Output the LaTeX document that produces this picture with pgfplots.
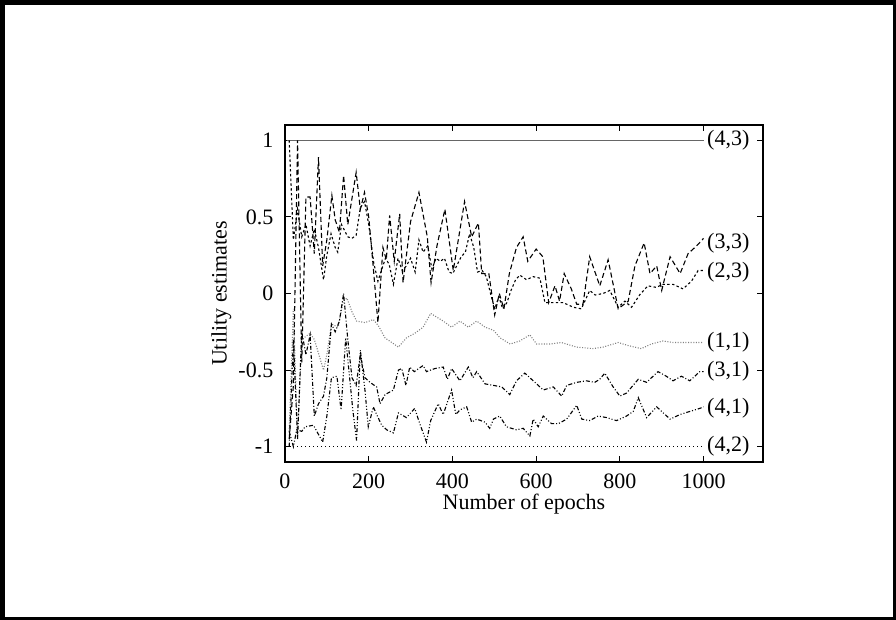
\documentclass[border=0pt]{standalone}
\usepackage{fontspec}
\setmainfont{Liberation Serif}
\usepackage{pgfplots}
\pgfplotsset{compat=1.18}
\usepackage{pgfplotstable}

% one table per state, epochs against utility estimate
\pgfplotstableread{
x y
5 1
1000 1
}\stateFourThree
\pgfplotstableread{
x y
10 -1
1000 -1
}\stateFourTwo
\pgfplotstableread{
x y
10 -0.95
20 -0.6
30 1.0
40 -0.45
50 0.63
60 0.63
70 0.26
80 0.89
90 0.18
100 0.35
112 0.64
120 0.48
130 0.40
140 0.77
150 0.45
160 0.62
170 0.79
180 0.55
190 0.66
200 0.50
210 0.20
222 -0.19
234 0.30
242 0.22
250 0.51
261 0.21
274 0.52
282 0.07
300 0.47
320 0.66
340 0.37
349 0.07
363 0.31
382 0.55
402 0.15
429 0.60
446 0.37
462 0.46
470 0.13
487 0.13
501 -0.14
512 0.00
523 -0.10
536 0.13
553 0.30
569 0.37
580 0.21
600 0.29
616 0.24
630 -0.06
645 0.05
656 -0.05
667 0.13
684 0.03
697 -0.07
712 -0.07
728 0.24
752 0.05
772 0.22
796 -0.10
820 -0.05
836 0.18
858 0.33
872 0.13
888 0.18
900 0.02
920 0.24
944 0.13
963 0.26
979 0.30
990 0.33
1000 0.36
}\stateThreeThree
\pgfplotstableread{
x y
10 1.0
20 0.35
30 0.55
40 0.37
50 0.45
60 0.31
70 0.42
80 0.30
92 0.09
100 0.25
110 0.39
120 0.30
126 0.27
135 0.45
150 0.37
160 0.36
170 0.38
180 0.56
190 0.60
200 0.45
212 0.20
222 0.08
229 0.14
240 0.23
249 0.19
259 0.06
270 0.23
280 0.15
290 0.18
300 0.23
311 0.14
320 0.35
330 0.27
341 0.31
351 0.16
361 0.23
371 0.21
381 0.23
392 0.14
401 0.13
421 0.24
431 0.27
441 0.39
451 0.30
460 0.14
471 0.15
481 0.11
491 0.00
501 -0.10
511 -0.02
520 -0.10
530 -0.06
540 0.02
551 0.09
561 0.12
577 0.09
593 0.11
609 0.10
621 -0.06
641 -0.06
665 -0.06
689 -0.09
708 -0.10
728 0.02
741 -0.01
760 0.00
776 0.02
796 -0.09
812 -0.05
828 -0.09
847 -0.01
867 0.05
887 0.04
903 0.06
927 0.06
951 0.03
971 0.08
987 0.15
1000 0.15
}\stateTwoThree
\pgfplotstableread{
x y
10 -0.9
20 -0.1
30 -0.95
40 -0.3
50 -0.28
60 -0.26
70 -0.30
80 -0.39
92 -0.50
100 -0.40
111 -0.20
127 -0.22
139 -0.05
148 -0.03
160 -0.12
171 -0.18
191 -0.19
211 -0.17
223 -0.21
239 -0.29
255 -0.32
271 -0.35
290 -0.29
310 -0.26
330 -0.22
348 -0.13
366 -0.16
378 -0.18
398 -0.22
418 -0.18
438 -0.22
458 -0.18
478 -0.22
498 -0.24
514 -0.29
526 -0.31
538 -0.33
561 -0.31
585 -0.27
601 -0.33
633 -0.33
660 -0.32
697 -0.35
736 -0.36
760 -0.35
796 -0.32
820 -0.34
851 -0.36
875 -0.33
903 -0.31
927 -0.32
959 -0.32
1000 -0.32
}\stateOneOne
\pgfplotstableread{
x y
10 -1.0
20 -0.3
30 -0.95
40 -0.25
50 -0.40
60 -0.27
70 -0.80
80 -0.72
92 -0.67
100 -0.55
111 -0.20
120 -0.25
130 -0.18
140 0.00
150 -0.30
160 -0.55
170 -0.60
180 -0.40
191 -0.55
203 -0.58
219 -0.61
227 -0.72
239 -0.66
259 -0.63
271 -0.50
279 -0.49
289 -0.60
298 -0.48
309 -0.51
330 -0.47
338 -0.51
358 -0.49
378 -0.48
388 -0.56
398 -0.49
418 -0.57
438 -0.48
449 -0.55
458 -0.51
478 -0.59
498 -0.60
518 -0.61
537 -0.66
553 -0.57
573 -0.52
593 -0.57
617 -0.63
641 -0.61
661 -0.67
673 -0.60
697 -0.58
720 -0.57
740 -0.58
752 -0.56
764 -0.52
784 -0.61
800 -0.67
816 -0.65
844 -0.56
864 -0.58
891 -0.51
911 -0.54
927 -0.57
947 -0.54
967 -0.57
991 -0.51
1000 -0.51
}\stateThreeOne
\pgfplotstableread{
x y
10 -0.9
20 -1.0
28 -0.89
40 -0.90
48 -0.87
68 -0.86
90 -0.97
100 -0.80
111 -0.55
124 -0.54
134 -0.76
145 -0.29
162 -0.76
171 -0.96
180 -0.37
191 -0.63
199 -0.87
211 -0.74
219 -0.79
231 -0.86
243 -0.89
259 -0.91
271 -0.78
290 -0.81
310 -0.75
322 -0.85
338 -0.97
348 -0.83
366 -0.72
378 -0.79
398 -0.63
408 -0.79
418 -0.76
434 -0.74
446 -0.84
458 -0.82
478 -0.84
489 -0.88
498 -0.82
513 -0.80
529 -0.87
553 -0.89
569 -0.88
585 -0.93
593 -0.82
605 -0.87
617 -0.80
637 -0.85
653 -0.85
673 -0.82
697 -0.73
709 -0.82
728 -0.83
748 -0.80
768 -0.81
792 -0.83
816 -0.80
832 -0.77
844 -0.68
864 -0.81
888 -0.74
920 -0.82
944 -0.79
967 -0.77
991 -0.75
1000 -0.74
}\stateFourOne

\begin{document}
\fontsize{11}{13}\selectfont
\begin{tikzpicture}
\useasboundingbox (0,0) rectangle (448pt,310pt);
% page frame: heavier on the left and top edges
\fill[black] (0,0) rectangle (2.5pt,310pt);
\fill[black] (0,307.5pt) rectangle (448pt,310pt);
\fill[black] (446.5pt,0) rectangle (448pt,310pt);
\fill[black] (0,0) rectangle (448pt,1.5pt);
\begin{axis}[
    at={(142.5pt,79pt)}, anchor=south west,
    scale only axis,
    width=239pt, height=168.5pt,
    xmin=0, xmax=1142,
    ymin=-1.1, ymax=1.1,
    xtick={0,200,400,600,800,1000},
    xticklabels={0,200,400,600,800,1000},
    ytick={-1,-0.5,0,0.5,1},
    yticklabels={-1,-0.5,0,0.5,1},
    tick align=inside,
    major tick length=3pt,
    tick style={black, line width=0.5pt},
    axis line style={line width=0.6pt},
    ticklabel style={font=\fontsize{11}{13}\selectfont},
    yticklabel style={xshift=-2pt},
    xticklabel style={yshift=-2pt},
    xlabel={Number of epochs},
    ylabel={Utility estimates},
    label style={font=\fontsize{11}{13}\selectfont},
    xlabel style={yshift=5pt},
    ylabel style={yshift=-4pt},
    clip=false,
    every axis plot/.append style={line width=0.55pt, mark=none},
]
\addplot[gray!80!black] table {\stateFourThree};
\addplot[black, dash pattern=on 2.5pt off 1.5pt] table {\stateThreeThree};
\addplot[black, dash pattern=on 1.2pt off 1.2pt] table {\stateTwoThree};
\addplot[gray, dash pattern=on 0.5pt off 0.8pt] table {\stateOneOne};
\addplot[black, dash pattern=on 2pt off 1pt on 0.5pt off 1pt] table {\stateThreeOne};
\addplot[black, dash pattern=on 2pt off 1pt on 0.5pt off 1pt on 0.5pt off 1pt] table {\stateFourOne};
\addplot[black, dash pattern=on 0.6pt off 1.4pt] table {\stateFourTwo};

\begin{scope}[every node/.style={anchor=west, inner sep=1pt, font=\fontsize{11}{13}\selectfont}]
\node at (axis cs:1003,1) {(4,3)};
\node at (axis cs:1003,0.33) {(3,3)};
\node at (axis cs:1003,0.14) {(2,3)};
\node at (axis cs:1003,-0.32) {(1,1)};
\node at (axis cs:1003,-0.51) {(3,1)};
\node at (axis cs:1003,-0.75) {(4,1)};
\node at (axis cs:1003,-1) {(4,2)};
\end{scope}
\end{axis}
\end{tikzpicture}
\end{document}
